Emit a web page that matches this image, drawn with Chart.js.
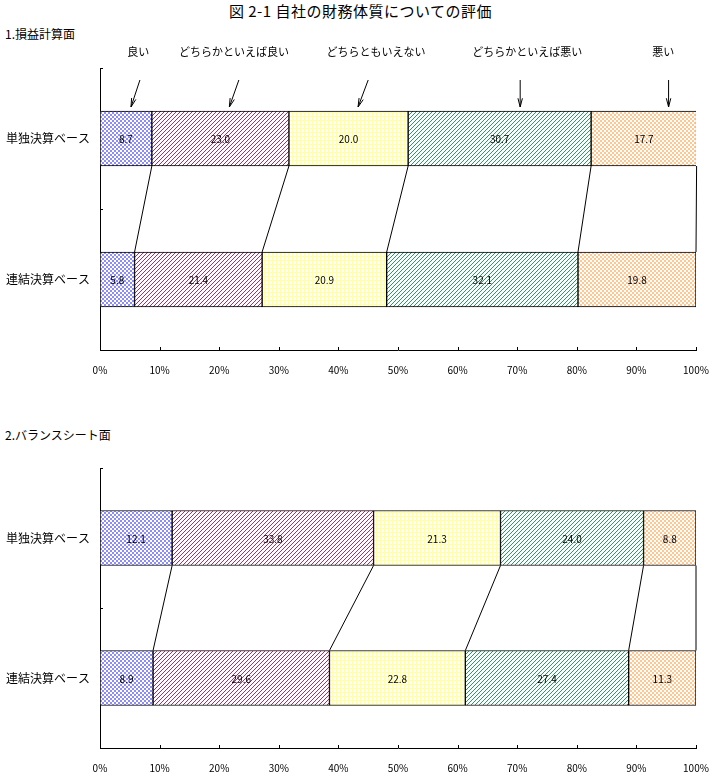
<!DOCTYPE html>
<html>
<head>
  <title>図 2-1 自社の財務体質についての評価</title>
  <style>
    body {
      margin: 0;
      background: #fff;
      font-family: "Noto Sans CJK JP", sans-serif;
      color: #000;
    }
    .page {
      position: relative;
      width: 721px;
      height: 779px;
      overflow: hidden;
    }
    .title {
      position: absolute;
      top: 0;
      left: 0;
      width: 721px;
      text-align: center;
      font-size: 15px;
      letter-spacing: 0.5px;
    }
    .section {
      position: absolute;
      left: 5px;
      font-size: 12px;
    }
    canvas {
      position: absolute;
      left: 0;
    }
  </style>
</head>
<body>
  <div class="page">
    <div class="title">図 2-1 自社の財務体質についての評価</div>
    <div class="section" style="top:25px">1.損益計算面</div>
    <div class="section" style="top:426px">2.バランスシート面</div>
    <canvas id="plChart" width="721" height="390" style="top:0"></canvas>
    <canvas id="bsChart" width="721" height="339" style="top:440px"></canvas>
  </div>

  <script src="https://cdn.jsdelivr.net/npm/chart.js"></script>

  <script>
    // 行ラベルと回答区分
    const categories = ['単独決算ベース', '連結決算ベース'];
    const seriesNames = ['良い', 'どちらかといえば良い', 'どちらともいえない', 'どちらかといえば悪い', '悪い'];
    const xTicks = [0, 10, 20, 30, 40, 50, 60, 70, 80, 90, 100];

    // 1.損益計算面 (単独, 連結)
    const plGood = [8.7, 5.8];
    const plRatherGood = [23.0, 21.4];
    const plNeutral = [20.0, 20.9];
    const plRatherBad = [30.7, 32.1];
    const plBad = [17.7, 19.8];

    // 2.バランスシート面 (単独, 連結)
    const bsGood = [12.1, 8.9];
    const bsRatherGood = [33.8, 29.6];
    const bsNeutral = [21.3, 22.8];
    const bsRatherBad = [24.0, 27.4];
    const bsBad = [8.8, 11.3];

    // 凡例の矢印 (x軸の値で指定: ラベル中心, 矢印の根元, 矢印の先)
    const legendLabelAt = [6.4, 22.5, 46.3, 71.7, 94.5];
    const arrowFrom = [6.7, 23.3, 45.0, 70.5, 95.4];
    const arrowTo = [5.2, 21.7, 43.3, 70.5, 95.4];

    function makePattern(size, draw) {
      const c = document.createElement('canvas');
      c.width = size;
      c.height = size;
      const g = c.getContext('2d');
      g.fillStyle = '#ffffff';
      g.fillRect(0, 0, size, size);
      draw(g);
      return g.createPattern(c, 'repeat');
    }

    function diagonal(color) {
      return makePattern(4, g => {
        g.fillStyle = color;
        for (let k = 0; k < 4; k++) g.fillRect(k, 3 - k, 1, 1);
      });
    }

    const patterns = [
      // 青の市松
      makePattern(4, g => {
        g.fillStyle = '#8c8cff';
        g.fillRect(0, 0, 2, 2);
        g.fillRect(2, 2, 2, 2);
      }),
      // えんじの斜線
      diagonal('#a3336f'),
      // 黄色の格子
      makePattern(4, g => {
        g.fillStyle = '#ffffa8';
        g.fillRect(0, 0, 4, 1);
        g.fillRect(0, 0, 1, 4);
      }),
      // 緑の斜線
      diagonal('#2f9966'),
      // オレンジの市松
      makePattern(4, g => {
        g.fillStyle = '#ffc690';
        g.fillRect(0, 0, 2, 2);
        g.fillRect(2, 2, 2, 2);
      })
    ];

    // 数値ラベル・系列線・内向き目盛
    const barExtras = {
      id: 'barExtras',
      afterDatasetsDraw(chart) {
        const ctx = chart.ctx;
        const area = chart.chartArea;
        const x = chart.scales.x;
        const y = chart.scales.y;
        ctx.save();

        // 系列線
        ctx.strokeStyle = '#000';
        ctx.lineWidth = 1;
        chart.data.datasets.forEach((ds, i) => {
          const els = chart.getDatasetMeta(i).data;
          const a = els[0], b = els[1];
          ctx.beginPath();
          ctx.moveTo(a.x, a.y + a.height / 2);
          ctx.lineTo(b.x, b.y - b.height / 2);
          ctx.stroke();
        });

        // 数値ラベル
        ctx.fillStyle = '#000';
        ctx.font = '10px "Noto Sans CJK JP", sans-serif';
        ctx.textAlign = 'center';
        ctx.textBaseline = 'middle';
        chart.data.datasets.forEach((ds, i) => {
          chart.getDatasetMeta(i).data.forEach((el, j) => {
            ctx.fillText(ds.data[j].toFixed(1), (el.x + el.base) / 2, el.y + 1);
          });
        });

        // 内向きの目盛
        ctx.beginPath();
        xTicks.forEach(v => {
          const px = Math.round(x.getPixelForValue(v)) + 0.5;
          ctx.moveTo(px, area.bottom);
          ctx.lineTo(px, area.bottom - 3);
        });
        const mid = (y.getPixelForValue(0) + y.getPixelForValue(1)) / 2;
        [area.top, mid].forEach(v => {
          const py = Math.round(v) + 0.5;
          ctx.moveTo(area.left, py);
          ctx.lineTo(area.left + 3, py);
        });
        ctx.stroke();
        ctx.restore();
      }
    };

    // 上段の凡例 (ラベルと矢印)
    const arrowLegend = {
      id: 'arrowLegend',
      afterDraw(chart) {
        const ctx = chart.ctx;
        const x = chart.scales.x;
        ctx.save();
        ctx.fillStyle = '#000';
        ctx.strokeStyle = '#000';
        ctx.lineWidth = 1;
        ctx.font = '11px "Noto Sans CJK JP", sans-serif';
        ctx.textAlign = 'center';
        ctx.textBaseline = 'middle';
        seriesNames.forEach((name, i) => {
          ctx.fillText(name, x.getPixelForValue(legendLabelAt[i]), 52);
          const x0 = x.getPixelForValue(arrowFrom[i]);
          const x1 = x.getPixelForValue(arrowTo[i]);
          const y0 = 80, y1 = 107;
          ctx.beginPath();
          ctx.moveTo(x0, y0);
          ctx.lineTo(x1, y1);
          const ang = Math.atan2(y1 - y0, x1 - x0);
          const len = 9, spread = 0.25;
          ctx.moveTo(x1 - len * Math.cos(ang - spread), y1 - len * Math.sin(ang - spread));
          ctx.lineTo(x1, y1);
          ctx.lineTo(x1 - len * Math.cos(ang + spread), y1 - len * Math.sin(ang + spread));
          ctx.stroke();
        });
        ctx.restore();
      }
    };

    function buildChart(canvasId, series, padTop, axisHeight, extraPlugins) {
      const ctx = document.getElementById(canvasId).getContext('2d');
      return new Chart(ctx, {
        type: 'bar',
        data: {
          labels: categories,
          datasets: series.map((values, i) => ({
            label: seriesNames[i],
            data: values,
            backgroundColor: patterns[i],
            borderColor: '#000',
            borderWidth: 1,
            borderSkipped: false,
            barThickness: 55
          }))
        },
        options: {
          indexAxis: 'y',
          responsive: false,
          maintainAspectRatio: false,
          animation: false,
          layout: { padding: { top: padTop, right: 25, left: 0, bottom: 0 } },
          plugins: {
            legend: { display: false },
            tooltip: { enabled: false }
          },
          scales: {
            x: {
              stacked: true,
              min: 0,
              max: 100,
              afterBuildTicks: s => { s.ticks = xTicks.map(v => ({ value: v })); },
              afterFit: s => {
                s.height = axisHeight;
                s.paddingLeft = 0;
                s.paddingRight = 0;
              },
              grid: { display: false, drawTicks: false },
              border: { display: true, color: '#000', width: 1 },
              ticks: {
                padding: 14,
                color: '#000',
                font: { size: 10, family: '"Noto Sans CJK JP", sans-serif' },
                callback: v => v + '%'
              }
            },
            y: {
              stacked: true,
              afterFit: s => { s.width = 100; },
              grid: { display: false, drawTicks: false },
              border: { display: true, color: '#000', width: 1 },
              ticks: {
                padding: 10,
                color: '#000',
                font: { size: 12, family: '"Noto Sans CJK JP", sans-serif' }
              }
            }
          }
        },
        plugins: [barExtras].concat(extraPlugins)
      });
    }

    buildChart('plChart', [plGood, plRatherGood, plNeutral, plRatherBad, plBad], 68, 40, [arrowLegend]);
    buildChart('bsChart', [bsGood, bsRatherGood, bsNeutral, bsRatherBad, bsBad], 28, 31, []);
  </script>
</body>
</html>
